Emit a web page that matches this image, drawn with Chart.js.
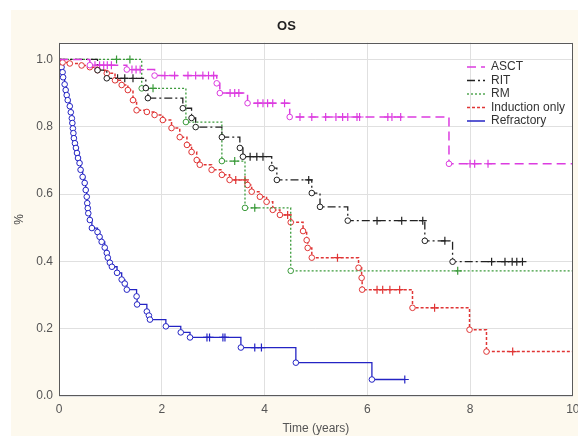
<!DOCTYPE html>
<html><head><meta charset="utf-8">
<script src="https://cdn.jsdelivr.net/npm/chart.js@4.4.1/dist/chart.umd.min.js"></script>
<style>html,body{margin:0;padding:0;background:#fff;}canvas{display:block;}</style>
</head><body>
<canvas id="c" width="578" height="436"></canvas>
<script>
// ---- data ----
const seriesNames = ['ASCT', 'RIT', 'RM', 'Induction only', 'Refractory'];
const xTickValues = [0, 2, 4, 6, 8, 10];
const yTickValues = [0, 0.2, 0.4, 0.6, 0.8, 1.0];

const asctTime = [0, 0.60, 1.32, 1.86, 3.07, 3.13, 3.67, 4.49, 7.59, 10];
const asctSurv = [1, 0.983, 0.970, 0.952, 0.929, 0.900, 0.870, 0.829, 0.690, 0.690];
const asctCens = [0.70, 0.79, 0.87, 0.94, 1.02, 1.42, 1.50, 1.58, 2.06, 2.25, 2.51, 2.66, 2.80, 2.91, 3.01,
  3.33, 3.42, 3.50, 3.87, 3.97, 4.06, 4.16, 4.39, 4.69, 4.92, 5.19, 5.39, 5.52, 5.62, 5.80, 5.85,
  6.40, 6.48, 6.65, 8.00, 8.09, 8.35];

const ritTime = [0, 0.75, 0.93, 1.69, 1.73, 2.41, 2.58, 2.66, 3.17, 3.52, 3.58, 4.14, 4.24, 4.92, 5.08, 5.62, 7.12, 7.66, 9.02];
const ritSurv = [1, 0.968, 0.944, 0.915, 0.885, 0.855, 0.826, 0.799, 0.769, 0.737, 0.711, 0.677, 0.642, 0.603, 0.562, 0.521, 0.461, 0.399, 0.399];
const ritCens = [1.14, 1.28, 1.44, 3.72, 3.85, 3.97, 4.86, 6.19, 6.67, 7.08, 7.51, 8.42, 8.68, 8.82, 8.91, 9.02];

const rmTime = [0, 1.61, 2.47, 3.17, 3.62, 4.51, 10];
const rmSurv = [1, 0.914, 0.814, 0.698, 0.559, 0.372, 0.372];
const rmCens = [1.12, 1.38, 1.83, 3.42, 3.81, 7.76];

const indTime = [0, 0.07, 0.21, 0.44, 0.60, 0.75, 0.93, 1.09, 1.22, 1.34, 1.44, 1.51, 1.71, 1.86, 2.02, 2.19, 2.35, 2.49, 2.58, 2.68,
  2.74, 2.97, 3.17, 3.32, 3.67, 3.75, 3.91, 4.04, 4.16, 4.30, 4.51, 4.75, 4.82, 4.84, 4.92, 5.83, 5.89, 5.90, 6.88, 7.99, 8.32, 10];
const indSurv = [1, 0.991, 0.988, 0.982, 0.977, 0.968, 0.959, 0.938, 0.924, 0.909, 0.879, 0.849, 0.844, 0.835, 0.820, 0.796, 0.769, 0.746, 0.725, 0.701,
  0.687, 0.672, 0.657, 0.642, 0.627, 0.607, 0.592, 0.577, 0.553, 0.538, 0.516, 0.490, 0.463, 0.440, 0.411, 0.381, 0.351, 0.316, 0.262, 0.197, 0.132, 0.132];
const indCens = [3.44, 3.62, 4.45, 5.42, 6.19, 6.30, 6.44, 6.63, 7.31, 8.83];

const refTime = [0, 0.03, 0.05, 0.07, 0.08, 0.11, 0.13, 0.15, 0.17, 0.21, 0.23, 0.25, 0.26, 0.27, 0.28, 0.29, 0.31, 0.33, 0.35, 0.37,
  0.40, 0.42, 0.46, 0.50, 0.52, 0.54, 0.55, 0.56, 0.57, 0.60, 0.64, 0.75, 0.79, 0.83, 0.89, 0.93, 0.95, 0.99, 1.03, 1.13,
  1.22, 1.28, 1.32, 1.51, 1.52, 1.71, 1.75, 1.77, 2.08, 2.37, 2.55, 3.54, 4.61, 6.09, 6.73];
const refSurv = [1, 0.986, 0.977, 0.962, 0.947, 0.926, 0.909, 0.894, 0.879, 0.861, 0.843, 0.825, 0.811, 0.795, 0.781, 0.766, 0.751, 0.737, 0.722, 0.707,
  0.692, 0.672, 0.651, 0.633, 0.612, 0.592, 0.573, 0.558, 0.543, 0.523, 0.499, 0.487, 0.473, 0.458, 0.441, 0.425, 0.411, 0.396, 0.384, 0.366,
  0.346, 0.334, 0.316, 0.296, 0.272, 0.251, 0.239, 0.227, 0.207, 0.189, 0.174, 0.144, 0.099, 0.049, 0.049];
const refCens = [2.88, 2.93, 3.19, 3.23, 3.81, 3.94, 6.73];

// ---- styles ----
const colors = ['#dc3ce0', '#222222', '#3a9a3a', '#e03535', '#2424c4'];
const dashes = [[9, 5], [8, 3, 2, 3], [2, 2], [3, 2], []];
const widths = [1.5, 1.3, 1.3, 1.5, 1.3];

const times = [asctTime, ritTime, rmTime, indTime, refTime];
const survs = [asctSurv, ritSurv, rmSurv, indSurv, refSurv];
const cens = [asctCens, ritCens, rmCens, indCens, refCens];

function survAt(t, s, x) {
  let v = s[0];
  for (let i = 0; i < t.length; i++) { if (t[i] <= x) v = s[i]; }
  return v;
}

const datasets = [];
seriesNames.forEach((name, k) => {
  datasets.push({
    label: name,
    data: times[k].map((t, i) => ({ x: t, y: survs[k][i] })),
    stepped: 'before',
    borderColor: colors[k],
    backgroundColor: colors[k],
    borderWidth: widths[k],
    borderDash: dashes[k],
    pointStyle: 'circle',
    pointRadius: (ctx) => {
      const n = ctx.dataset.data.length;
      return (ctx.dataIndex === 0 || ctx.dataIndex === n - 1) ? 0 : 2.8;
    },
    pointBorderWidth: 1,
    pointBorderColor: colors[k],
    pointBackgroundColor: '#ffffff',
    fill: false
  });
});
seriesNames.forEach((name, k) => {
  datasets.push({
    label: name + ' censored',
    data: cens[k].map(c => ({ x: c, y: survAt(times[k], survs[k], c) })),
    showLine: false,
    pointStyle: 'cross',
    pointRadius: 4,
    pointBorderWidth: 1.2,
    borderColor: colors[k],
    backgroundColor: colors[k],
    pointBorderColor: colors[k]
  });
});

const bgPlugin = {
  id: 'bg',
  beforeDraw(chart) {
    const { ctx, chartArea: a } = chart;
    ctx.save();
    ctx.fillStyle = '#ffffff';
    ctx.fillRect(0, 0, chart.width, chart.height);
    ctx.fillStyle = '#fdf9ee';
    ctx.fillRect(11, 10, chart.width - 11, chart.height - 10);
    ctx.fillStyle = '#ffffff';
    ctx.fillRect(a.left, a.top, a.right - a.left, a.bottom - a.top);
    ctx.restore();
    if (chart.legend) {
      chart.legend.left = 465.5;
      chart.legend.top = 59.5;
    }
  },
  afterDraw(chart) {
    const { ctx, chartArea: a } = chart;
    ctx.save();
    ctx.strokeStyle = '#5a5a5a';
    ctx.lineWidth = 1;
    ctx.strokeRect(Math.round(a.left) + 0.5, Math.round(a.top) + 0.5, Math.round(a.right - a.left) - 1, Math.round(a.bottom - a.top) - 1);
    ctx.restore();
  }
};

new Chart(document.getElementById('c'), {
  type: 'line',
  data: { datasets },
  plugins: [bgPlugin],
  options: {
    responsive: false,
    animation: false,
    events: [],
    layout: { padding: { left: 0, right: 5, top: 0, bottom: 0 } },
    font: { family: "'Liberation Sans', Arial, sans-serif" },
    plugins: {
      tooltip: { enabled: false },
      title: {
        display: true, text: 'OS', color: '#222',
        font: { family: "'Liberation Sans', Arial, sans-serif", size: 13, weight: 'bold' },
        padding: { top: 19, bottom: 8 }
      },
      legend: {
        display: true,
        position: 'chartArea',
        align: 'start',
        labels: {
          generateLabels: (chart) => {
            const items = Chart.defaults.plugins.legend.labels.generateLabels(chart);
            return items.filter(it => it.datasetIndex < 5).map(it => {
              const ds = chart.data.datasets[it.datasetIndex];
              it.lineDash = ds.borderDash;
              it.lineWidth = ds.borderWidth;
              it.strokeStyle = ds.borderColor;
              it.pointStyle = 'line';
              return it;
            });
          },
          usePointStyle: true,
          pointStyle: 'line',
          pointStyleWidth: 18,
          boxWidth: 18, boxHeight: 4, padding: 1.5,
          color: '#333',
          font: { family: "'Liberation Sans', Arial, sans-serif", size: 12 }
        }
      }
    },
    scales: {
      x: {
        type: 'linear', min: 0, max: 10,
        afterBuildTicks: (s) => { s.ticks = xTickValues.map(v => ({ value: v })); },
        ticks: { color: '#555', padding: 6, font: { family: "'Liberation Sans', Arial, sans-serif", size: 12 } },
        grid: { color: '#e0e0e0', drawTicks: false },
        border: { display: false },
        title: { display: true, text: 'Time (years)', color: '#555', padding: { top: 0, bottom: 0 },
          font: { family: "'Liberation Sans', Arial, sans-serif", size: 12 } },
        afterFit: (s) => { s.height = 40; s.paddingLeft = 0; s.paddingRight = 0; }
      },
      y: {
        type: 'linear', min: 0, max: 1.05,
        afterBuildTicks: (s) => { s.ticks = yTickValues.map(v => ({ value: v })); },
        ticks: { color: '#555', padding: 6, callback: (v) => Number(v).toFixed(1),
          font: { family: "'Liberation Sans', Arial, sans-serif", size: 12 } },
        grid: { color: '#e0e0e0', drawTicks: false },
        border: { display: false },
        title: { display: true, text: '%', color: '#444', padding: { top: 12, bottom: 0 },
          font: { family: "'Liberation Sans', Arial, sans-serif", size: 12 } },
        afterFit: (s) => { s.width = 59; s.paddingTop = 0; s.paddingBottom = 0; }
      }
    }
  }
});
</script>
</body></html>
